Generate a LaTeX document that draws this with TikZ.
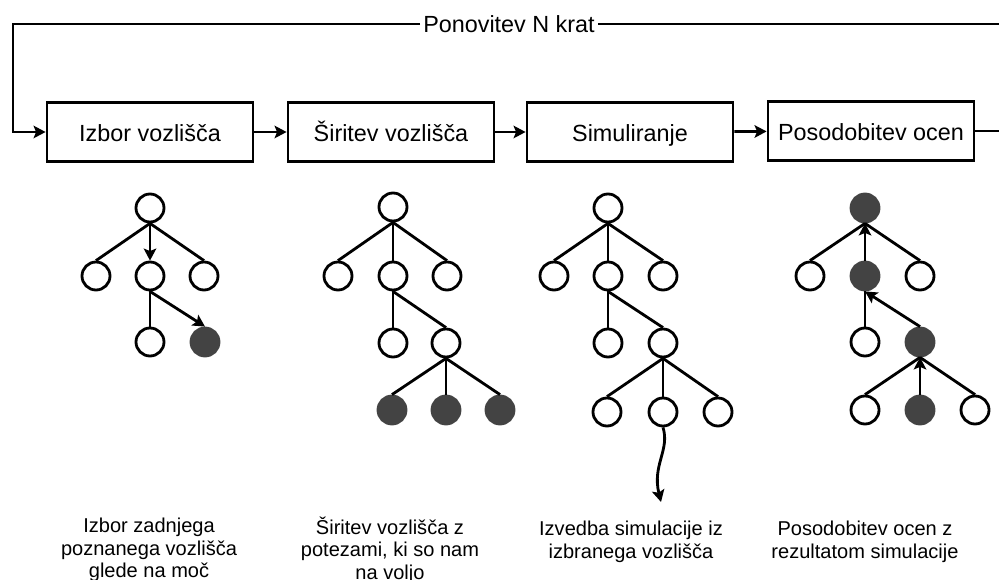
\documentclass[tikz,border=0pt]{standalone}
\usepackage{fontspec}
\setmainfont{Liberation Sans}
\usetikzlibrary{arrows.meta,positioning}
\definecolor{temno}{HTML}{434343}
\tikzset{font=\fontsize{13.3}{16}\selectfont}
\tikzset{korak/.style={draw,minimum width=4.12cm,minimum height=1.18cm,inner sep=0pt,text height=12pt,text depth=1.3pt}}
\tikzset{vozel/.style={circle,draw,minimum size=0.56cm,inner sep=0pt}}
\tikzset{poln/.style={vozel,draw=temno,fill=temno}}
\tikzset{opis/.style={align=center,font=\fontsize{11.4}{12.8}\selectfont}}
\tikzset{pusc/.style={-{Stealth[length=2.4mm,width=2.5mm,inset=0.5mm]}}}

\begin{document}
\begin{tikzpicture}[x=0.2mm,y=-0.2mm,line width=1.6pt]
\useasboundingbox (0,0) rectangle (999,580);
% koraki
\node[korak] (izbor) at (150,132) {Izbor vozlišča};
\node[korak] (siritev) at (391,132) {Širitev vozlišča};
\node[korak] (sim) at (630,132) {Simuliranje};
\node[korak] (pos) at (871,131) {Posodobitev ocen};
\draw[pusc] (izbor) -- (siritev);
\draw[pusc] (siritev) -- (sim);
\draw[pusc] (sim) -- (pos);
% zanka
\node[fill=white,inner sep=1pt] (ponovi) at (509,24) {Ponovitev N krat};
\coordinate (levo) at (13,24);
\coordinate (desno) at (1000,24);
\draw (pos.east) -| (desno) -- (ponovi.east);
\draw[pusc] (ponovi.west) -- (levo) |- (izbor.west);
% drevo 1
\node[vozel] (a0) at (150,208) {};
\node[vozel] (a1) at (96,276) {};
\node[vozel] (a2) at (150,276) {};
\node[vozel] (a3) at (204,276) {};
\node[vozel] (a4) at (150,342) {};
\node[poln] (a5) at (205,342) {};
\draw (a0.south) -- (a1.north);
\draw[pusc] (a0.south) -- (a2.north);
\draw (a0.south) -- (a3.north);
\draw (a2.south) -- (a4.north);
\draw[pusc] (a2.south) -- (a5.north);
% drevo 2
\node[vozel] (b0) at (393,207) {};
\node[vozel] (b1) at (338,276) {};
\node[vozel] (b2) at (393,276) {};
\node[vozel] (b3) at (447,276) {};
\node[vozel] (b4) at (393,343) {};
\node[vozel] (b5) at (446,343) {};
\node[poln] (b6) at (392,410) {};
\node[poln] (b7) at (446,410) {};
\node[poln] (b8) at (500,410) {};
\draw (b0.south) -- (b1.north);
\draw (b0.south) -- (b2.north);
\draw (b0.south) -- (b3.north);
\draw (b2.south) -- (b4.north);
\draw (b2.south) -- (b5.north);
\draw (b5.south) -- (b6.north);
\draw (b5.south) -- (b7.north);
\draw (b5.south) -- (b8.north);
% drevo 3
\node[vozel] (c0) at (608,208) {};
\node[vozel] (c1) at (554,276) {};
\node[vozel] (c2) at (608,276) {};
\node[vozel] (c3) at (663,276) {};
\node[vozel] (c4) at (608,343) {};
\node[vozel] (c5) at (663,343) {};
\node[vozel] (c6) at (607,412) {};
\node[vozel] (c7) at (663,412) {};
\node[vozel] (c8) at (718,412) {};
\draw (c0.south) -- (c1.north);
\draw (c0.south) -- (c2.north);
\draw (c0.south) -- (c3.north);
\draw (c2.south) -- (c4.north);
\draw (c2.south) -- (c5.north);
\draw (c5.south) -- (c6.north);
\draw (c5.south) -- (c7.north);
\draw (c5.south) -- (c8.north);
\coordinate (konec) at (661,502);
\draw[pusc] (c7.south) .. controls (670,450) and (652,465) .. (konec);
% drevo 4
\node[poln] (d0) at (865,208) {};
\node[vozel] (d1) at (810,276) {};
\node[poln] (d2) at (865,276) {};
\node[vozel] (d3) at (920,276) {};
\node[vozel] (d4) at (865,342) {};
\node[poln] (d5) at (920,342) {};
\node[vozel] (d6) at (865,410) {};
\node[poln] (d7) at (920,410) {};
\node[vozel] (d8) at (975,410) {};
\draw (d0.south) -- (d1.north);
\draw[pusc] (d2.north) -- (d0.south);
\draw (d0.south) -- (d3.north);
\draw (d2.south) -- (d4.north);
\draw[pusc] (d5.north) -- (d2.south);
\draw (d5.south) -- (d6.north);
\draw[pusc] (d7.north) -- (d5.south);
\draw (d5.south) -- (d8.north);
% opisi
\node[opis] (o1) at (149,550) {Izbor zadnjega\\poznanega vozlišča\\glede na moč};
\node[opis] (o2) at (390,550) {Širitev vozlišča z\\potezami, ki so nam\\na voljo};
\node[opis] (o3) at (631,542) {Izvedba simulacije iz\\izbranega vozlišča};
\node[opis] (o4) at (865,542) {Posodobitev ocen z\\rezultatom simulacije};
\end{tikzpicture}
\end{document}
